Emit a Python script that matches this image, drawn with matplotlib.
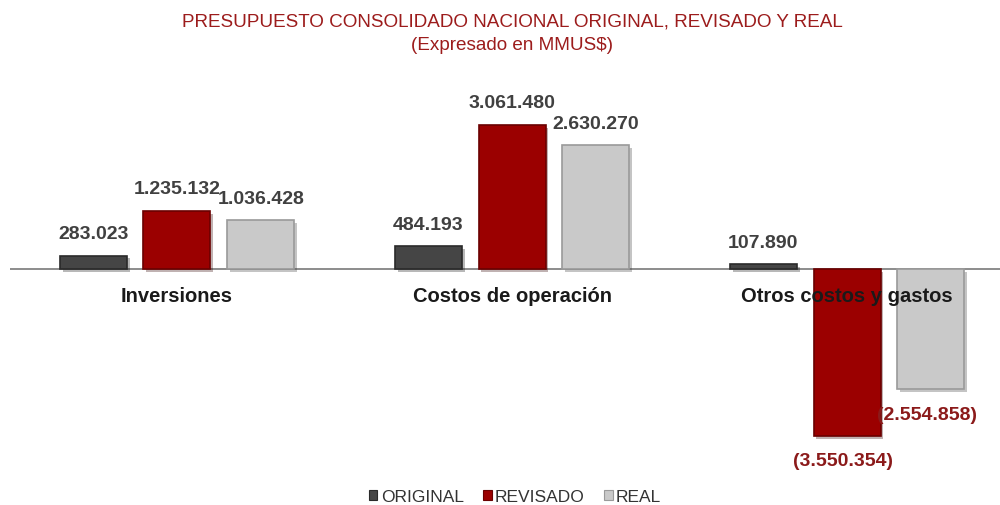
import numpy as np
import matplotlib.pyplot as plt
import matplotlib.patheffects as pe
from matplotlib.patches import Patch

categories = ["Inversiones", "Costos de operación", "Otros costos y gastos"]
series_names = ["ORIGINAL", "REVISADO", "REAL"]
original = [283023, 484193, 107890]
revisado = [1235132, 3061480, -3550354]
real = [1036428, 2630270, -2554858]

colors = ["#454545", "#9B0000", "#C9C9C9"]
edges = ["#2a2a2a", "#6a0000", "#9a9a9a"]


def fmt(v):
    # spanish style thousands, negatives in parentheses
    s = f"{abs(v):,}".replace(",", ".")
    return f"({s})" if v < 0 else s


plt.rcParams['font.family'] = ['Liberation Sans', 'DejaVu Sans']

fig = plt.figure(figsize=(10, 5.05), dpi=100)
ax = fig.add_axes([0.01, 0.0693, 0.99, 0.7723])

x = np.arange(len(categories))
width = 0.2
offsets = [-0.25, 0, 0.25]

for data, name, c, ec, off in zip([original, revisado, real], series_names, colors, edges, offsets):
    bars = ax.bar(x + off, data, width, color=c, edgecolor=ec, linewidth=1.2, zorder=2,
                  path_effects=[pe.SimplePatchShadow(offset=(2, -2), alpha=0.3), pe.Normal()])
    for b, v in zip(bars, data):
        cx = b.get_x() + b.get_width() / 2
        if v >= 0:
            ax.annotate(fmt(v), (cx, v), xytext=(0, 15), textcoords='offset points',
                        ha='center', va='center', fontsize=14, fontweight='bold',
                        color='#404040', zorder=5)
        else:
            ax.annotate(fmt(v), (cx, v), xytext=(-3, -18.5), textcoords='offset points',
                        ha='center', va='center', fontsize=14, fontweight='bold',
                        color='#8B1A1A', zorder=5)

ax.axhline(0, color='#8c8c8c', linewidth=1.4, zorder=1)

for i, cat in enumerate(categories):
    ax.annotate(cat, (i, 0), xytext=(0, -19.5), textcoords='offset points',
                ha='center', va='center', fontsize=14.5, fontweight='bold',
                color='#1a1a1a', zorder=6)

ax.set_xlim(-0.4985, 2.4567)
ax.set_ylim(-4.268e6, 4.013e6)
ax.axis('off')

fig.text(0.512, 1 - 22 / 505, "PRESUPUESTO CONSOLIDADO NACIONAL ORIGINAL, REVISADO Y REAL",
         ha='center', va='center', fontsize=13.6, color='#9C1C1C')
fig.text(0.512, 1 - 46 / 505, "(Expresado en MMUS$)",
         ha='center', va='center', fontsize=13.6, color='#9C1C1C')

handles = [Patch(facecolor=c, edgecolor=ec, linewidth=0.8) for c, ec in zip(colors, edges)]
leg = fig.legend(handles, series_names, loc='center', bbox_to_anchor=(0.515, 1 - 497 / 505),
                 ncol=3, frameon=False, handlelength=0.5, handleheight=0.5,
                 handletextpad=0.2, columnspacing=1.1, fontsize=12.5)
for t in leg.get_texts():
    t.set_color('#333333')

fig.savefig("out.png", dpi=100)
